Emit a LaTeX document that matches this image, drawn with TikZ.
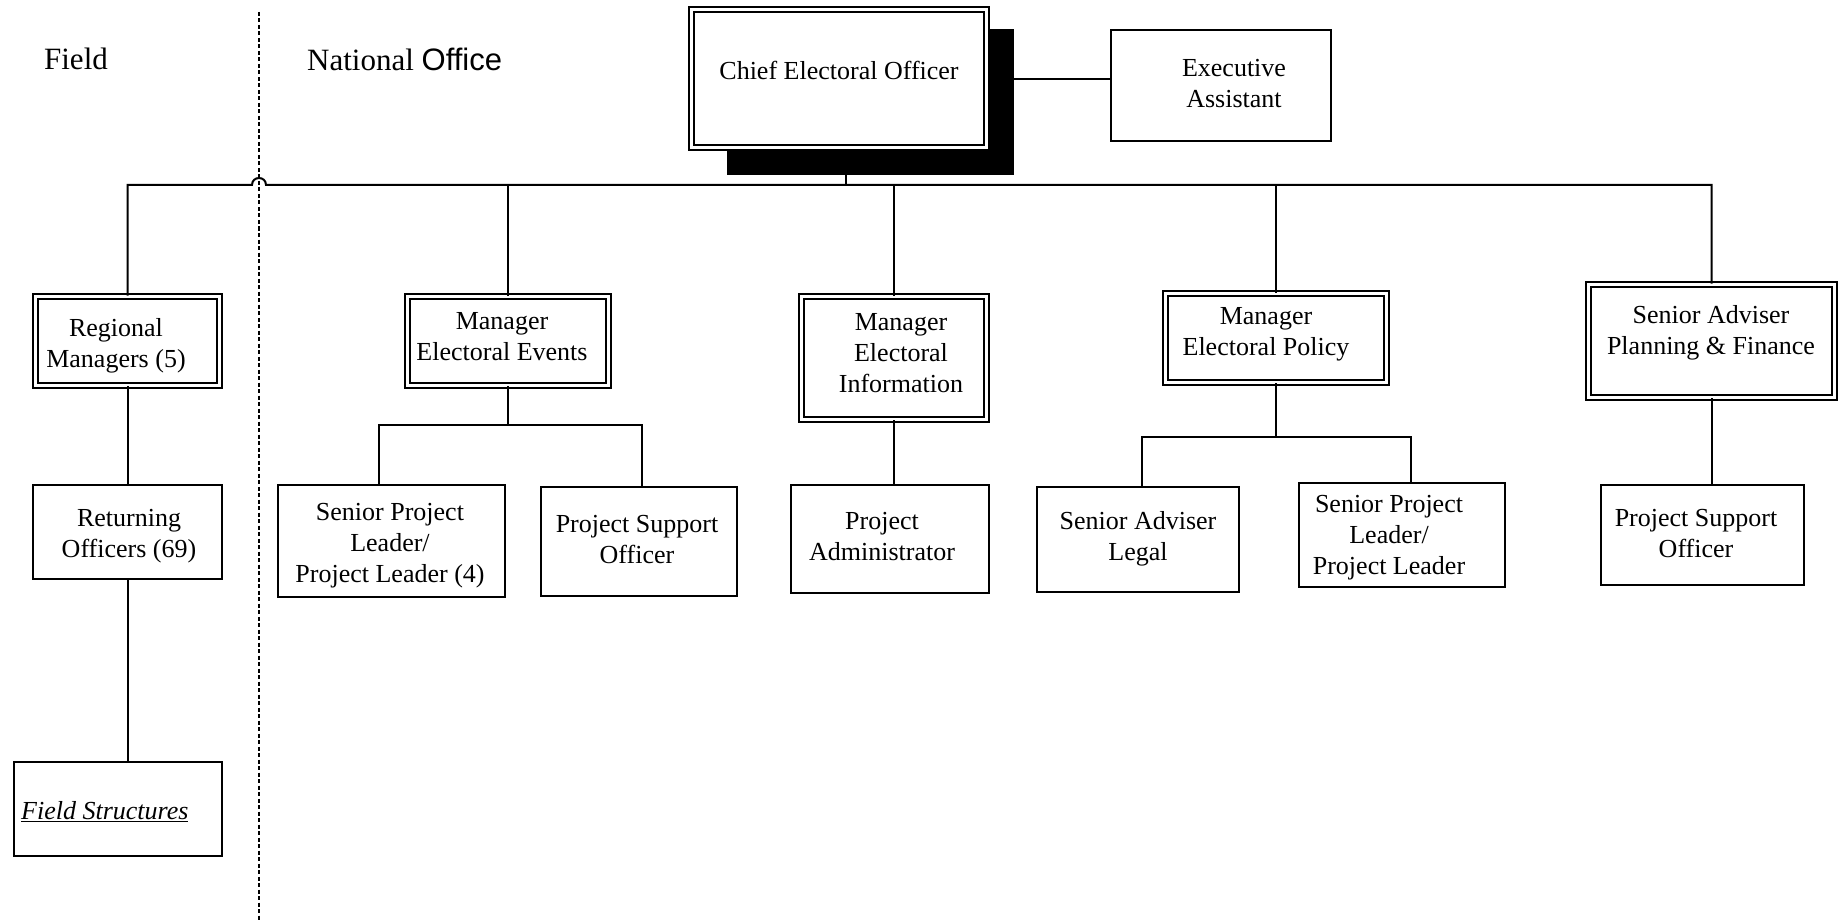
\documentclass[tikz,border=0pt]{standalone}
\usepackage{fontspec}
\setmainfont{Liberation Serif}
\newfontfamily\arialf{Liberation Sans}
\begin{document}
\begin{tikzpicture}[x=1pt,y=-1pt,
  box/.style={draw,line width=2pt,fill=white,inner sep=0pt},
  dbox/.style={draw,double,line width=1.7pt,double distance=3pt,fill=white,inner sep=0pt},
  txt/.style={align=center,inner sep=0pt,font=\fontsize{26}{31}\selectfont},
  head/.style={inner sep=0pt,font=\fontsize{31}{37}\selectfont},
  conn/.style={line width=2pt}]
\useasboundingbox (0,0) rectangle (1838,920);

% divider
\coordinate (divtop) at (259,12);
\coordinate (divbot) at (259,920);
\draw[line width=1.3pt,dash pattern=on 4pt off 2.5pt] (divtop) -- (divbot);

% headers
\node[head] (field) at (76,59) {Field};
\node[head,anchor=west] (natl) at (307,59) {National {\arialf Office}};

% CEO
\node[fill=black,inner sep=0pt,minimum width=287pt,minimum height=146pt] (shadow) at (870.5,102) {};
\node[dbox,minimum width=295.2pt,minimum height=138.2pt] (ceo) at (839,78.5) {};
\node[txt] (ceot) at (839,70) {Chief Electoral Officer};

\node[box,minimum width=220pt,minimum height=111pt] (ea) at (1221,85.5) {};
\node[txt] (eat) at (1234,84) {Executive\\Assistant};

% second level
\node[dbox,minimum width=184.2pt,minimum height=89.2pt] (rm) at (127.5,341) {};
\node[txt] (rmt) at (116,346) {Regional\\Managers (5)};
\node[dbox,minimum width=201.2pt,minimum height=89.2pt] (mee) at (508,341) {};
\node[txt] (meet) at (502,337) {Manager\\Electoral Events};
\node[dbox,minimum width=185.2pt,minimum height=123.2pt] (mei) at (894,358) {};
\node[txt] (meit) at (901,353) {Manager\\Electoral\\Information};
\node[dbox,minimum width=221.2pt,minimum height=89.2pt] (mep) at (1276,338) {};
\node[txt] (mept) at (1266,334) {Manager\\Electoral Policy};
\node[dbox,minimum width=246.2pt,minimum height=113.2pt] (sapf) at (1711.5,341) {};
\node[txt] (sapft) at (1711,333) {Senior Adviser\\Planning \& Finance};

% third level
\node[box,minimum width=189pt,minimum height=94pt] (ro) at (127.5,532) {};
\node[txt] (rot) at (129,536) {Returning\\Officers (69)};
\node[box,minimum width=227pt,minimum height=112pt] (spl) at (391.5,541) {};
\node[txt] (splt) at (390,546) {Senior Project\\Leader/\\Project Leader (4)};
\node[box,minimum width=196pt,minimum height=109pt] (pso) at (639,541.5) {};
\node[txt] (psot) at (637,540) {Project Support\\Officer};
\node[box,minimum width=198pt,minimum height=108pt] (pa) at (890,539) {};
\node[txt] (pat) at (882,537) {Project\\Administrator};
\node[box,minimum width=202pt,minimum height=105pt] (sal) at (1138,539.5) {};
\node[txt] (salt) at (1138,539) {Senior Adviser\\Legal};
\node[box,minimum width=206pt,minimum height=104pt] (spl2) at (1402,535) {};
\node[txt] (spl2t) at (1389,538) {Senior Project\\Leader/\\Project Leader};
\node[box,minimum width=203pt,minimum height=100pt] (pso2) at (1702.5,535) {};
\node[txt] (pso2t) at (1696,534) {Project Support\\Officer};

% field structures
\node[box,minimum width=208pt,minimum height=94pt] (fs) at (118,809) {};
\node[txt,anchor=west] (fst) at (21,812) {\underline{\textit{Field Structures}}};

% connectors
\coordinate (eay) at (0,79);
\draw[conn] (shadow.east |- eay) -- (ea.west |- eay);

\coordinate (bus) at (0,185);
\coordinate (hop) at (259,185);
\coordinate (ceox) at (846,0);
\draw[conn] (rm.north) -- (rm.north |- bus) -- ([xshift=-7pt]hop)
  .. controls +(0,-9.3) and +(0,-9.3) .. ([xshift=7pt]hop) -- (sapf.north |- bus) -- (sapf.north);
\draw[conn] (shadow.south -| ceox) -- (ceox |- bus);
\draw[conn] (mee.north) -- (mee.north |- bus);
\draw[conn] (mei.north) -- (mei.north |- bus);
\draw[conn] (mep.north) -- (mep.north |- bus);

\draw[conn] (rm.south) -- (rm.south |- ro.north);
\draw[conn] (ro.south) -- (ro.south |- fs.north);

\coordinate (meel) at (379,425);
\coordinate (meer) at (642,425);
\draw[conn] (mee.south) -- (mee.south |- meel);
\draw[conn] (meel |- spl.north) -- (meel) -- (meer) -- (meer |- pso.north);

\draw[conn] (mei.south) -- (mei.south |- pa.north);

\coordinate (mepl) at (1142,437);
\coordinate (mepr) at (1411,437);
\draw[conn] (mep.south) -- (mep.south |- mepl);
\draw[conn] (mepl |- sal.north) -- (mepl) -- (mepr) -- (mepr |- spl2.north);

\draw[conn] (sapf.south) -- (sapf.south |- pso2.north);
\end{tikzpicture}
\end{document}
